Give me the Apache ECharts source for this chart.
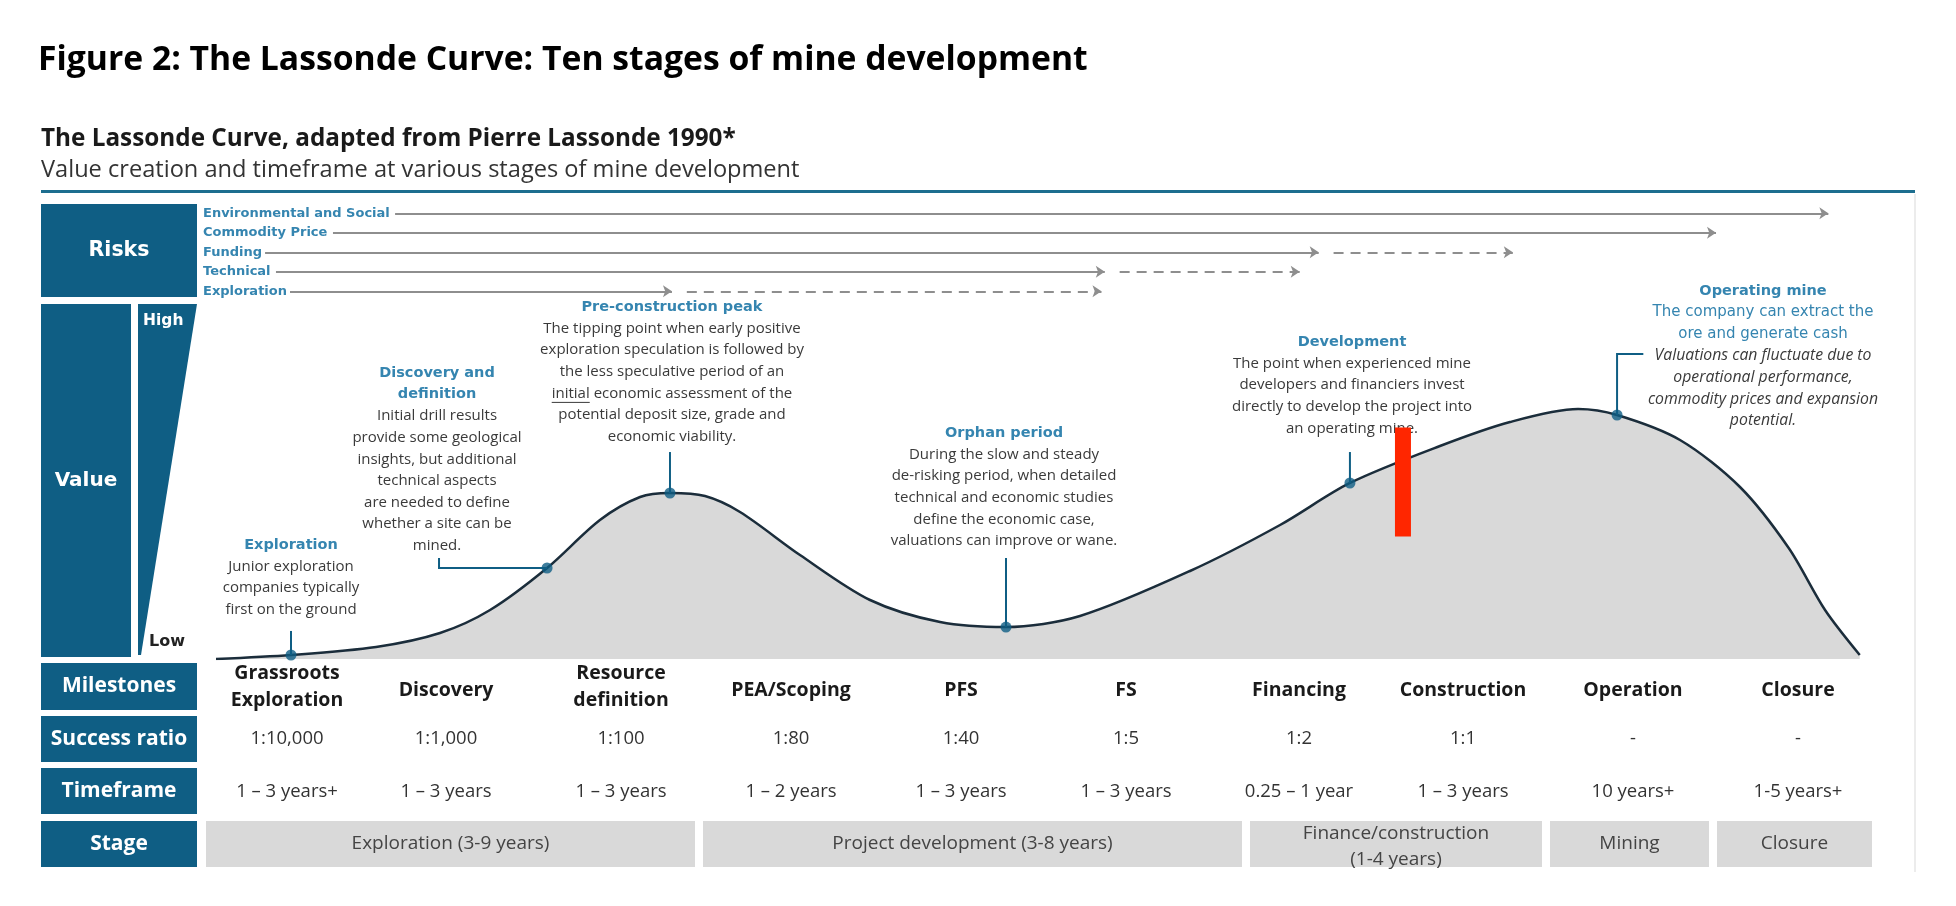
<!DOCTYPE html>
<html>
<head>
<meta charset="utf-8">
<title>The Lassonde Curve</title>
<script src="https://cdn.jsdelivr.net/npm/echarts@6/dist/echarts.min.js"></script>
<style>
  html, body { margin: 0; padding: 0; background: #fff; }
  #chart { width: 1956px; height: 906px; }
</style>
</head>
<body>
<div id="chart"></div>
<script>
// Lassonde curve: x = progress through the mine life (0-100), y = value (0-100)
const curveX = [0, 4.54, 9.69, 13.56, 16.59, 20.04, 23.24, 25.67, 27.48, 29.6, 31.72, 35.35, 39.59, 43.83, 47.82,
                52.3, 58.96, 64.41, 68.64, 74.09, 78.33, 82.45, 84.81, 88.62, 92.25, 95.2, 97.4, 99.5];
const curveY = [0, 1.13, 3.38, 7.32, 13.8, 25.63, 39.15, 45.63, 46.76, 45.9, 41.41, 29.3, 16.62, 10.42, 9.01,
                12.11, 24.79, 37.75, 49.58, 60.0, 66.76, 70.42, 68.73, 61.69, 48.45, 31.27, 13.8, 1.13];

// the six marked points on the curve (indexes into the curve arrays)
const dotIndex = [1, 5, 8, 14, 18, 22];

// leader lines from each marked point to its note
const leaderLines = [
    [[4.54, 1.13], [4.54, 7.9]],
    [[20.04, 25.63], [13.5, 25.63], [13.5, 28.45]],
    [[27.48, 46.76], [27.48, 58.3]],
    [[47.82, 9.01], [47.82, 28.45]],
    [[68.64, 49.58], [68.64, 58.3]],
    [[84.81, 68.73], [84.81, 85.9], [86.4, 85.9]]
];

// red marker bar: [x, low, high]
const markerBar = [[71.85, 34.5, 65.2]];

// risks timeline
const riskNames = ['Environmental and Social', 'Commodity Price', 'Funding', 'Technical', 'Exploration'];
const riskStart = [10.84, 7.08, 2.97, 3.63, 4.48];
const riskSolidEnd = [97.6, 90.8, 66.75, 53.8, 27.6];
const riskDashedEnd = [null, null, 78.5, 65.6, 53.6];

// table
const rowLabels = ['Milestones', 'Success ratio', 'Timeframe', 'Stage'];
const milestones = ['Grassroots\nExploration', 'Discovery', 'Resource\ndefinition', 'PEA/Scoping', 'PFS', 'FS',
                    'Financing', 'Construction', 'Operation', 'Closure'];
const successRatios = ['1:10,000', '1:1,000', '1:100', '1:80', '1:40', '1:5', '1:2', '1:1', '-', '-'];
const timeframes = ['1 – 3 years+', '1 – 3 years', '1 – 3 years', '1 – 2 years', '1 – 3 years', '1 – 3 years',
                    '0.25 – 1 year', '1 – 3 years', '10 years+', '1-5 years+'];
const stages = ['Exploration (3-9 years)', 'Project development (3-8 years)', 'Finance/construction\n(1-4 years)', 'Mining', 'Closure'];
const stageSpans = [[0, 2], [3, 5], [6, 7], [8, 8], [9, 9]];

// notes along the curve
const notes = [
    { title: ['Exploration'], body: ['Junior exploration', 'companies typically', 'first on the ground'] },
    { title: ['Discovery and', 'definition'], body: ['Initial drill results', 'provide some geological', 'insights, but additional',
        'technical aspects', 'are needed to define', 'whether a site can be', 'mined.'] },
    { title: ['Pre-construction peak'], body: ['The tipping point when early positive', 'exploration speculation is followed by',
        'the less speculative period of an', 'initial economic assessment of the', 'potential deposit size, grade and', 'economic viability.'] },
    { title: ['Orphan period'], body: ['During the slow and steady', 'de-risking period, when detailed',
        'technical and economic studies', 'define the economic case,', 'valuations can improve or wane.'] },
    { title: ['Development'], body: ['The point when experienced mine', 'developers and financiers invest',
        'directly to develop the project into', 'an operating mine.'] },
    { title: ['Operating mine'], sub: ['The company can extract the', 'ore and generate cash'],
      italic: ['Valuations can fluctuate due to', 'operational performance,', 'commodity prices and expansion', 'potential.'] }
];

// ---- layout (pixels) ----
const TEAL = '#0f5e84';
const TEAL_TEXT = '#3585b0';
const HEAD = "'DejaVu Sans', Verdana, sans-serif";
const BODY = "'Open Sans', Roboto, sans-serif";
const NOTE_SIZE = 15;
const noteAnchor = [[291, 545], [437, 373], [672, 307], [1004, 433], [1352, 342], [1763, 291]];
const LINE_H = 21.6;
const colCenter = [287, 446, 621, 791, 961, 1126, 1299, 1463, 1633, 1798];
const colEdge = [206, 366, 533, 699, 876, 1043, 1246, 1381, 1546, 1713, 1876];
const rowTop = [663, 716, 768, 821];
const rowBottom = [710, 762, 814, 867];

const mctx = document.createElement('canvas').getContext('2d');
function textWidth(s, font) { mctx.font = font; return mctx.measureText(s).width; }

function txt(x, y, text, style) {
    return {
        type: 'text', x: x, y: y, silent: true,
        style: Object.assign({ text: text, fill: '#333', align: 'center', verticalAlign: 'middle',
            fontFamily: BODY, fontSize: NOTE_SIZE }, style)
    };
}

const graphic = [];

// headings
graphic.push(txt(38, 60, 'Figure 2: The Lassonde Curve: Ten stages of mine development',
    { align: 'left', fontWeight: 'bold', fontSize: 33.7, fill: '#000' }));
graphic.push(txt(41, 139, 'The Lassonde Curve, adapted from Pierre Lassonde 1990*',
    { align: 'left', fontWeight: 'bold', fontSize: 24.3, fill: '#1a1a1a' }));
graphic.push(txt(41, 170, 'Value creation and timeframe at various stages of mine development',
    { align: 'left', fontSize: 23.6, fill: '#333' }));
graphic.push({ type: 'rect', silent: true, shape: { x: 41, y: 190, width: 1874, height: 3 }, style: { fill: '#1d6e8f' } });
graphic.push({ type: 'line', silent: true, shape: { x1: 1915, y1: 194, x2: 1915, y2: 872 }, style: { stroke: '#e6e6e6', lineWidth: 1.5 } });

// risks and value blocks
graphic.push({ type: 'rect', silent: true, shape: { x: 41, y: 204, width: 156, height: 93 }, style: { fill: TEAL } });
graphic.push(txt(119, 251, 'Risks', { fill: '#fff', fontFamily: HEAD, fontWeight: 'bold', fontSize: 20.5 }));
graphic.push({ type: 'rect', silent: true, shape: { x: 41, y: 304, width: 90, height: 353 }, style: { fill: TEAL } });
graphic.push(txt(86, 481, 'Value', { fill: '#fff', fontFamily: HEAD, fontWeight: 'bold', fontSize: 20 }));
graphic.push({ type: 'polygon', silent: true, shape: { points: [[138, 304], [197, 304], [141, 655], [138, 655]] }, style: { fill: TEAL } });
graphic.push(txt(143, 321, 'High', { align: 'left', fill: '#fff', fontFamily: HEAD, fontWeight: 'bold', fontSize: 15.5 }));
graphic.push(txt(149, 642, 'Low', { align: 'left', fill: '#222', fontFamily: HEAD, fontWeight: 'bold', fontSize: 16 }));

// table
rowLabels.forEach(function (label, r) {
    graphic.push({ type: 'rect', silent: true, shape: { x: 41, y: rowTop[r], width: 156, height: rowBottom[r] - rowTop[r] }, style: { fill: TEAL } });
    graphic.push(txt(119, (rowTop[r] + rowBottom[r]) / 2, label, { fill: '#fff', fontWeight: 'bold', fontSize: 21 }));
});
milestones.forEach(function (m, i) {
    const twoLines = m.indexOf('\n') >= 0;
    graphic.push(txt(colCenter[i], twoLines ? 687 : 690, m, { fill: '#1a1a1a', fontWeight: 'bold', fontSize: 19.5, lineHeight: 27 }));
    graphic.push(txt(colCenter[i], 739, successRatios[i], { fill: '#333', fontSize: 18.5 }));
    graphic.push(txt(colCenter[i], 792, timeframes[i], { fill: '#333', fontSize: 18.5 }));
});
stages.forEach(function (s, i) {
    const x0 = colEdge[stageSpans[i][0]] + (i === 0 ? 0 : 4);
    const x1 = colEdge[stageSpans[i][1] + 1] - 4;
    graphic.push({ type: 'rect', silent: true, shape: { x: x0, y: rowTop[3], width: x1 - x0, height: rowBottom[3] - rowTop[3] }, style: { fill: '#d9d9d9' } });
    graphic.push(txt((x0 + x1) / 2, i === 2 ? 847 : 844, s, { fill: '#444', fontSize: 19, lineHeight: 26 }));
});

// notes
notes.forEach(function (n, i) {
    const cx = noteAnchor[i][0];
    let y = noteAnchor[i][1];
    n.title.forEach(function (t) {
        graphic.push(txt(cx, y, t, { fill: TEAL_TEXT, fontFamily: HEAD, fontWeight: 'bold', fontSize: 14.5 }));
        y += LINE_H;
    });
    (n.sub || []).forEach(function (t) {
        graphic.push(txt(cx, y, t, { fill: TEAL_TEXT, fontFamily: HEAD, fontSize: 15 }));
        y += LINE_H;
    });
    (n.body || []).forEach(function (t) {
        graphic.push(txt(cx, y, t, { fill: '#3a3a3a' }));
        if (t.indexOf('initial ') === 0) {
            // "initial" is underlined in the source
            const f = NOTE_SIZE + 'px ' + BODY;
            const left = cx - textWidth(t, f) / 2;
            graphic.push({ type: 'line', silent: true,
                shape: { x1: left, y1: y + 9, x2: left + textWidth('initial', f), y2: y + 9 },
                style: { stroke: '#3a3a3a', lineWidth: 1 } });
        }
        y += LINE_H;
    });
    (n.italic || []).forEach(function (t) {
        graphic.push(txt(cx, y, t, { fill: '#3a3a3a', fontStyle: 'italic', fontSize: 15.8 }));
        y += LINE_H;
    });
});

const chart = echarts.init(document.getElementById('chart'), null, { renderer: 'canvas' });

const riskLineStyle = { color: '#8e8e8e', width: 2, opacity: 1 };

const option = {
    animation: false,
    backgroundColor: '#fff',
    grid: [
        { left: 216, top: 304, width: 1652, height: 355 },
        { left: 216, top: 203.5, width: 1652, height: 97.5 }
    ],
    xAxis: [
        { type: 'value', gridIndex: 0, min: 0, max: 100, show: false },
        { type: 'value', gridIndex: 1, min: 0, max: 100, show: false }
    ],
    yAxis: [
        { type: 'value', gridIndex: 0, min: 0, max: 100, show: false },
        {
            type: 'category', gridIndex: 1, data: riskNames, inverse: true,
            axisLine: { show: false }, axisTick: { show: false }, splitLine: { show: false },
            axisLabel: { align: 'left', margin: 13, color: TEAL_TEXT, fontFamily: HEAD, fontWeight: 'bold', fontSize: 13 }
        }
    ],
    series: [
        {
            type: 'line',
            xAxisIndex: 0, yAxisIndex: 0,
            data: curveX.map(function (x, i) { return [x, curveY[i]]; }),
            smooth: 0.3,
            symbol: 'none',
            lineStyle: { color: '#1b2d3b', width: 2.5 },
            areaStyle: { color: '#d9d9d9', opacity: 1 },
            z: 2
        },
        {
            type: 'lines',
            coordinateSystem: 'cartesian2d',
            xAxisIndex: 0, yAxisIndex: 0,
            polyline: true,
            data: leaderLines.map(function (c) { return { coords: c }; }),
            lineStyle: { color: TEAL, width: 2, opacity: 1 },
            clip: false,
            z: 3
        },
        {
            type: 'scatter',
            xAxisIndex: 0, yAxisIndex: 0,
            data: dotIndex.map(function (i) { return [curveX[i], curveY[i]]; }),
            symbolSize: 11,
            itemStyle: { color: TEAL },
            z: 4
        },
        {
            type: 'custom',
            xAxisIndex: 0, yAxisIndex: 0,
            data: markerBar,
            renderItem: function (params, api) {
                const top = api.coord([api.value(0), api.value(2)]);
                const bottom = api.coord([api.value(0), api.value(1)]);
                return { type: 'rect', shape: { x: top[0] - 8, y: top[1], width: 16, height: bottom[1] - top[1] },
                         style: { fill: '#ff2600' } };
            },
            z: 5
        },
        {
            type: 'lines',
            coordinateSystem: 'cartesian2d',
            xAxisIndex: 1, yAxisIndex: 1,
            data: riskNames.map(function (n, i) { return { coords: [[riskStart[i], i], [riskSolidEnd[i], i]] }; }),
            symbol: ['none', 'arrow'],
            symbolSize: 9,
            lineStyle: riskLineStyle,
            clip: false
        },
        {
            type: 'lines',
            coordinateSystem: 'cartesian2d',
            xAxisIndex: 1, yAxisIndex: 1,
            data: riskNames.map(function (n, i) {
                return riskDashedEnd[i] == null ? null : { coords: [[riskSolidEnd[i] + 0.9, i], [riskDashedEnd[i], i]] };
            }).filter(Boolean),
            symbol: ['none', 'arrow'],
            symbolSize: 9,
            lineStyle: Object.assign({}, riskLineStyle, { type: [10, 7] }),
            clip: false
        }
    ],
    graphic: graphic
};

chart.setOption(option);

window.addEventListener('resize', function () {
    chart.resize();
});
</script>
</body>
</html>
